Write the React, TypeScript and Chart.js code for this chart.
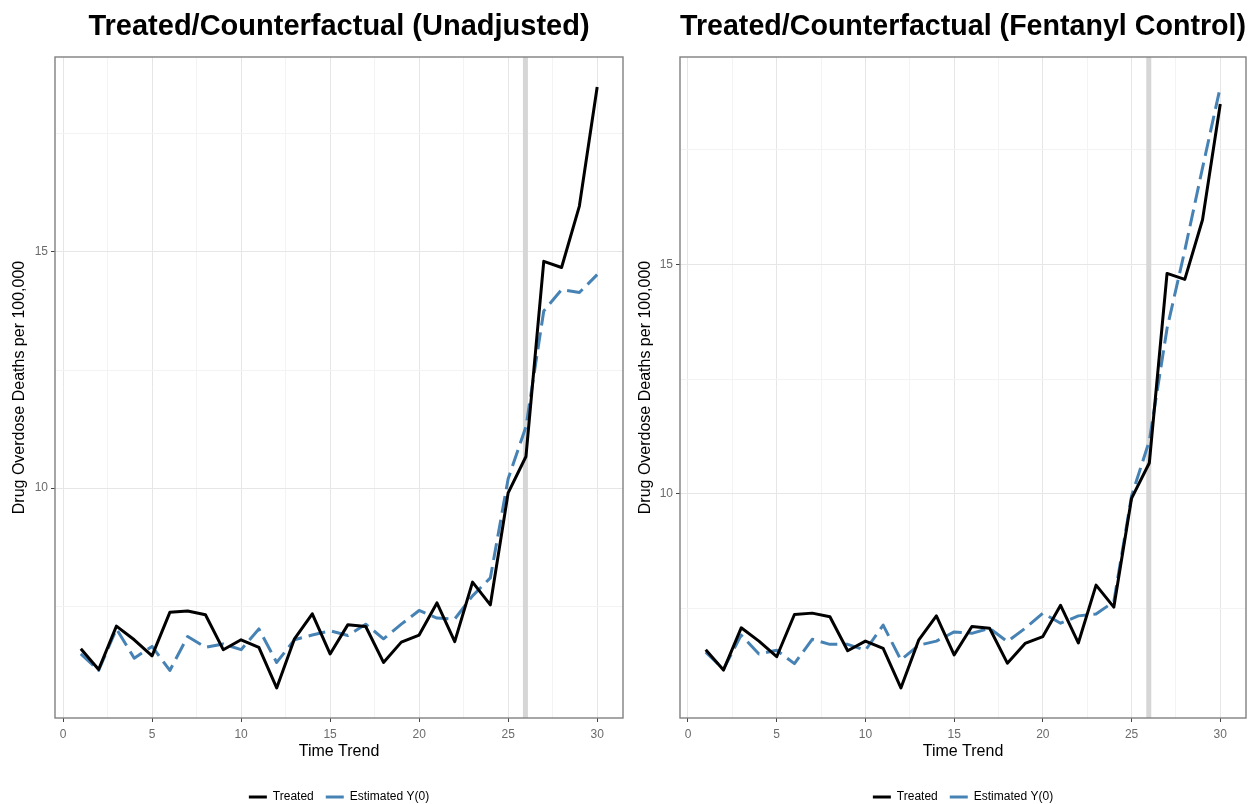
import React, { useEffect, useRef } from 'react';
import { Chart, registerables } from 'chart.js';

Chart.register(...registerables);

// ---------------- data ----------------
const TIME = [1, 2, 3, 4, 5, 6, 7, 8, 9, 10, 11, 12, 13, 14, 15, 16, 17, 18, 19, 20, 21, 22, 23, 24, 25, 26, 27, 28, 29, 30];
const TREATED = [6.60, 6.16, 7.08, 6.79, 6.45, 7.37, 7.40, 7.32, 6.58, 6.79, 6.63, 5.77, 6.81, 7.34, 6.49, 7.11, 7.07, 6.31, 6.74, 6.89, 7.57, 6.75, 8.01, 7.53, 9.90, 10.67, 14.80, 14.67, 15.97, 18.49];
const EST_UNADJUSTED = [6.49, 6.14, 7.02, 6.40, 6.65, 6.14, 6.86, 6.63, 6.70, 6.58, 7.02, 6.31, 6.79, 6.89, 6.98, 6.88, 7.12, 6.81, 7.12, 7.41, 7.25, 7.23, 7.72, 8.10, 10.20, 11.30, 13.75, 14.20, 14.14, 14.52];
const EST_FENTANYL = [6.55, 6.18, 6.92, 6.51, 6.59, 6.30, 6.83, 6.72, 6.72, 6.59, 7.14, 6.38, 6.70, 6.79, 6.99, 6.96, 7.07, 6.78, 7.07, 7.40, 7.18, 7.34, 7.38, 7.65, 9.95, 11.15, 13.60, 15.30, 17.10, 18.86];

const X_MAJOR = [0, 5, 10, 15, 20, 25, 30];
const X_MINOR = [2.5, 7.5, 12.5, 17.5, 22.5, 27.5];
const Y_MAJOR = [10, 15];
const Y_MINOR = [7.5, 12.5, 17.5];
const TREATMENT_TIME = 25.97;

const TITLE_LEFT = 'Treated/Counterfactual (Unadjusted)';
const TITLE_RIGHT = 'Treated/Counterfactual (Fentanyl Control)';
const SERIES_LABELS = ['Treated', 'Estimated Y(0)'];
const X_TITLE = 'Time Trend';
const Y_TITLE = 'Drug Overdose Deaths per 100,000';

// ---------------- styling ----------------
const FONT = "'Liberation Sans', Arial, Helvetica, sans-serif";
const TREATED_COLOR = '#000000';
const EST_COLOR = '#4682B4';

Chart.defaults.font.family = FONT;

function expand(values: number[], mult = 0.05) {
  const lo = Math.min(...values);
  const hi = Math.max(...values);
  const pad = (hi - lo) * mult;
  return { min: lo - pad, max: hi + pad };
}

const panelPlugin = {
  id: 'panelDecor',
  beforeDatasetsDraw(chart: any, _args: any, opts: any) {
    const { ctx, chartArea: a, scales } = chart;
    const px = scales.x.getPixelForValue(opts.vline);
    ctx.save();
    ctx.strokeStyle = '#d6d6d6';
    ctx.lineWidth = 5;
    ctx.beginPath();
    ctx.moveTo(px, a.top);
    ctx.lineTo(px, a.bottom);
    ctx.stroke();
    ctx.restore();
  },
  afterDatasetsDraw(chart: any) {
    const { ctx, chartArea: a } = chart;
    ctx.save();
    ctx.strokeStyle = '#808080';
    ctx.lineWidth = 1.4;
    ctx.strokeRect(a.left, a.top, a.right - a.left, a.bottom - a.top);
    ctx.restore();
  },
};

function makeConfig(title: string, est: number[], geom: { yWidth: number; padRight: number; yTitlePad: number }) {
  const xr = expand(TIME);
  const yr = expand([...TREATED, ...est]);
  const isMajorX = (v: number) => X_MAJOR.includes(v);
  const isMajorY = (v: number) => Y_MAJOR.includes(v);
  return {
    type: 'line',
    data: {
      datasets: [
        {
          label: SERIES_LABELS[0],
          data: TIME.map((t, i) => ({ x: t, y: TREATED[i] })),
          borderColor: TREATED_COLOR,
          backgroundColor: TREATED_COLOR,
          borderWidth: 3,
          pointRadius: 0,
          tension: 0,
          borderJoinStyle: 'round',
          fill: false,
        },
        {
          label: SERIES_LABELS[1],
          data: TIME.map((t, i) => ({ x: t, y: est[i] })),
          borderColor: EST_COLOR,
          backgroundColor: EST_COLOR,
          borderWidth: 3,
          borderDash: [17, 7],
          pointRadius: 0,
          tension: 0,
          borderJoinStyle: 'round',
          fill: false,
        },
      ],
    },
    options: {
      responsive: false,
      animation: false,
      events: [],
      layout: { padding: { left: 0, right: geom.padRight, top: 0, bottom: 0 } },
      scales: {
        x: {
          type: 'linear',
          min: xr.min,
          max: xr.max,
          afterBuildTicks: (s: any) => {
            s.ticks = [...X_MAJOR, ...X_MINOR].sort((a, b) => a - b).map((v) => ({ value: v }));
          },
          afterFit: (s: any) => {
            s.height = 61;
          },
          ticks: {
            autoSkip: false,
            maxRotation: 0,
            padding: 5,
            color: '#6b6b6b',
            font: { size: 12 },
            callback: (v: number) => (isMajorX(v) ? String(v) : ''),
          },
          grid: {
            color: (c: any) => (c.tick && isMajorX(c.tick.value) ? '#e6e6e6' : '#f3f3f3'),
            lineWidth: 1,
            tickLength: 4,
            tickColor: (c: any) => (c.tick && isMajorX(c.tick.value) ? '#444444' : 'rgba(0,0,0,0)'),
          },
          border: { display: false },
          title: {
            display: true,
            text: X_TITLE,
            color: '#000000',
            font: { size: 16 },
            padding: { top: 0, bottom: 18 },
          },
        },
        y: {
          type: 'linear',
          min: yr.min,
          max: yr.max,
          afterBuildTicks: (s: any) => {
            s.ticks = [...Y_MAJOR, ...Y_MINOR].sort((a, b) => a - b).map((v) => ({ value: v }));
          },
          afterFit: (s: any) => {
            s.width = geom.yWidth;
          },
          ticks: {
            autoSkip: false,
            padding: 3,
            color: '#6b6b6b',
            font: { size: 12 },
            callback: (v: number) => (isMajorY(v) ? String(v) : ''),
          },
          grid: {
            color: (c: any) => (c.tick && isMajorY(c.tick.value) ? '#e6e6e6' : '#f3f3f3'),
            lineWidth: 1,
            tickLength: 4,
            tickColor: (c: any) => (c.tick && isMajorY(c.tick.value) ? '#444444' : 'rgba(0,0,0,0)'),
          },
          border: { display: false },
          title: {
            display: true,
            text: Y_TITLE,
            color: '#000000',
            font: { size: 16 },
            padding: { top: geom.yTitlePad, bottom: 0 },
          },
        },
      },
      plugins: {
        tooltip: { enabled: false },
        panelDecor: { vline: TREATMENT_TIME },
        title: {
          display: true,
          text: title,
          fullSize: false,
          color: '#000000',
          font: { size: 29, weight: 'bold' },
          padding: { top: 10, bottom: 12.2 },
        },
        legend: {
          display: true,
          position: 'bottom',
          fullSize: false,
          labels: {
            boxWidth: 18,
            boxHeight: 3,
            padding: 12,
            color: '#000000',
            font: { size: 12 },
            generateLabels: (chart: any) =>
              chart.data.datasets.map((d: any, i: number) => ({
                text: d.label,
                fillStyle: d.borderColor,
                strokeStyle: d.borderColor,
                lineWidth: 0,
                hidden: false,
                datasetIndex: i,
              })),
          },
        },
      },
    },
    plugins: [panelPlugin],
  };
}

function Panel({ title, est, left, width, geom }: any) {
  const ref = useRef<HTMLCanvasElement | null>(null);
  useEffect(() => {
    if (!ref.current) return;
    const chart = new Chart(ref.current, makeConfig(title, est, geom) as any);
    return () => chart.destroy();
  }, [title, est, geom]);
  return (
    <div style={{ position: 'absolute', left, top: 0, width, height: 813 }}>
      <canvas ref={ref} width={width} height={813} style={{ display: 'block' }} />
    </div>
  );
}

const GEOM_LEFT = { yWidth: 55, padRight: 7, yTitlePad: 10.4 };
const GEOM_RIGHT = { yWidth: 50, padRight: 5, yTitlePad: 6.4 };

export default function App() {
  return (
    <div
      style={{
        position: 'fixed',
        left: 0,
        top: 0,
        width: 1251,
        height: 804,
        overflow: 'hidden',
        background: '#ffffff',
      }}
    >
      <Panel title={TITLE_LEFT} est={EST_UNADJUSTED} left={0} width={630} geom={GEOM_LEFT} />
      <Panel title={TITLE_RIGHT} est={EST_FENTANYL} left={630} width={621} geom={GEOM_RIGHT} />
    </div>
  );
}
